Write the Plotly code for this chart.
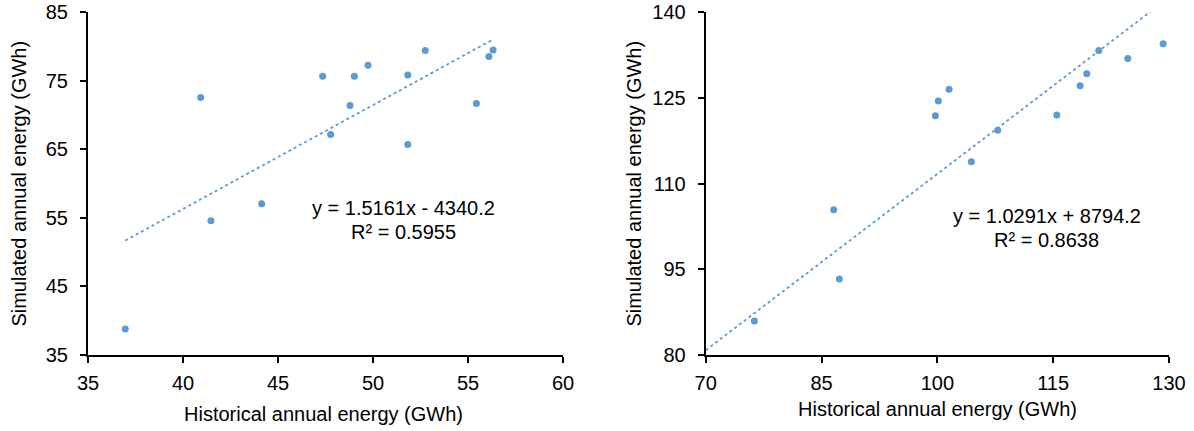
import plotly.graph_objects as go

# ---- data (GWh) ----
hist_left = [40.93, 44.14, 41.47, 36.96, 47.35, 49.02, 49.74, 51.83, 52.75, 56.32, 56.10, 48.79, 47.77, 51.83, 55.44]
sim_left = [72.57, 57.06, 54.58, 38.79, 75.67, 75.67, 77.27, 75.86, 79.42, 79.50, 78.54, 71.40, 67.17, 65.71, 71.69]

hist_right = [86.58, 87.31, 76.30, 99.74, 100.13, 101.52, 104.40, 107.82, 115.47, 118.49, 119.35, 120.91, 124.66, 129.24]
sim_right = [105.43, 93.30, 85.95, 121.89, 124.46, 126.51, 113.84, 119.33, 122.00, 127.14, 129.24, 133.33, 131.93, 134.49]

# trendline equations as printed (x, y in MWh -> intercept /1000 for GWh)
slope_left, intercept_left_mwh, r2_left = 1.5161, -4340.2, 0.5955
slope_right, intercept_right_mwh, r2_right = 1.0291, 8794.2, 0.8638

left_xticks = [35, 40, 45, 50, 55, 60]
left_yticks = [35, 45, 55, 65, 75, 85]
right_xticks = [70, 85, 100, 115, 130]
right_yticks = [80, 95, 110, 125, 140]

x_title = "Historical annual energy (GWh)"
y_title = "Simulated annual energy (GWh)"

BLUE = "#5B9BD5"
FONT = "Liberation Sans, Arial, sans-serif"
FS = 20
W, H = 1194, 431

fig = go.Figure()

fig.add_trace(go.Scatter(x=hist_left, y=sim_left, mode="markers", xaxis="x", yaxis="y",
                         marker=dict(color=BLUE, size=7), showlegend=False, cliponaxis=False))
tlx = [min(hist_left), max(hist_left)]
tly = [slope_left * v + intercept_left_mwh / 1000 for v in tlx]
fig.add_trace(go.Scatter(x=tlx, y=tly, mode="lines", xaxis="x", yaxis="y",
                         line=dict(color=BLUE, width=1.8, dash="dot"), showlegend=False))

fig.add_trace(go.Scatter(x=hist_right, y=sim_right, mode="markers", xaxis="x2", yaxis="y2",
                         marker=dict(color=BLUE, size=7), showlegend=False, cliponaxis=False))
trx = [right_xticks[0], max(hist_right)]
tr_y = [slope_right * v + intercept_right_mwh / 1000 for v in trx]
fig.add_trace(go.Scatter(x=trx, y=tr_y, mode="lines", xaxis="x2", yaxis="y2",
                         line=dict(color=BLUE, width=1.8, dash="dot"), showlegend=False))

def px_x(p):
    return p / W

def px_y(p):
    return 1 - p / H

ydom = [px_y(355), px_y(12.3)]
axis_common = dict(showline=True, linecolor="black", linewidth=2, ticks="outside", ticklen=6,
                   tickwidth=2, tickcolor="black", showgrid=False, zeroline=False, automargin=False,
                   tickfont=dict(family=FONT, size=FS, color="black"))
xstyle = dict(axis_common, ticklabelstandoff=3)
ystyle = dict(axis_common, ticklabelstandoff=8)

fig.update_layout(
    width=W, height=H, margin=dict(l=0, r=0, t=0, b=0, autoexpand=False),
    paper_bgcolor="white", plot_bgcolor="white",
    font=dict(family=FONT, size=FS, color="black"),
    xaxis=dict(domain=[px_x(88), px_x(563)], range=[35, 60], tickvals=left_xticks,
               anchor="y", **xstyle),
    yaxis=dict(domain=ydom, range=[35, 85], tickvals=left_yticks, anchor="x", **ystyle),
    xaxis2=dict(domain=[px_x(705.7), px_x(1169)], range=[70, 130], tickvals=right_xticks,
                anchor="y2", **xstyle),
    yaxis2=dict(domain=ydom, range=[80, 140], tickvals=right_yticks, anchor="x2", **ystyle),
)

C = dict(showarrow=False, xanchor="center", yanchor="middle", font=dict(size=FS))
ann = []
# equations
ann.append(dict(x=51.62, y=56.43, xref="x", yref="y", text=f"y = {slope_left}x - {abs(intercept_left_mwh)}", **C))
ann.append(dict(x=51.62, y=52.93, xref="x", yref="y", text=f"R² = {r2_left}", **C))
ann.append(dict(x=114.17, y=104.38, xref="x2", yref="y2", text=f"y = {slope_right}x + {intercept_right_mwh}", **C))
ann.append(dict(x=114.17, y=100.13, xref="x2", yref="y2", text=f"R² = {r2_right}", **C))
# axis titles
ann.append(dict(x=px_x(323), y=px_y(414), xref="paper", yref="paper", text=x_title, **C))
ann.append(dict(x=px_x(937), y=px_y(409), xref="paper", yref="paper", text=x_title, **C))
ann.append(dict(x=px_x(19), y=px_y(183.6), xref="paper", yref="paper", text=y_title, textangle=-90, **C))
ann.append(dict(x=px_x(634), y=px_y(183.6), xref="paper", yref="paper", text=y_title, textangle=-90, **C))
fig.update_layout(annotations=ann)

fig.write_html("out.html")
